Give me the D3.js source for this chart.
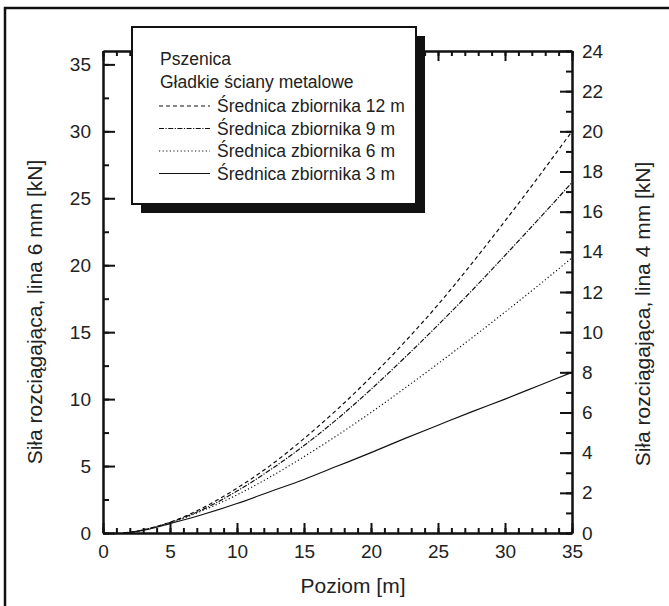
<!DOCTYPE html>
<html><head><meta charset="utf-8">
<script src="https://cdn.jsdelivr.net/npm/d3@7"></script>
<style>body{margin:0;background:#fff}svg{display:block}text{font-family:"Liberation Sans",Arial,sans-serif;fill:#222}</style>
</head><body>
<svg id="c" width="669" height="606"></svg>
<script>
const xs = [1.5, 2.5, 3.5, 5, 7.5, 10, 12.5, 15, 17.5, 20, 22.5, 25, 27.5, 30, 32.5, 35];
const d12 = [0, 0.13, 0.36, 0.8, 1.9, 3.35, 5.05, 7.05, 9.25, 11.65, 14.25, 17.05, 20.1, 23.3, 26.6, 30.0];
const d9  = [0, 0.13, 0.35, 0.78, 1.78, 3.13, 4.73, 6.53, 8.53, 10.73, 13.08, 15.53, 18.08, 20.73, 23.43, 26.18];
const d6  = [0, 0.12, 0.34, 0.75, 1.7, 2.85, 4.2, 5.7, 7.3, 9.0, 10.8, 12.65, 14.55, 16.5, 18.5, 20.55];
const d3m = [0, 0.11, 0.3, 0.7, 1.4, 2.2, 3.1, 4.0, 5.0, 6.0, 7.05, 8.05, 9.05, 10.0, 11.0, 12.0];
const seriesNames = ["Średnica zbiornika 12 m","Średnica zbiornika 9 m","Średnica zbiornika 6 m","Średnica zbiornika 3 m"];
const legendHead = ["Pszenica","Gładkie ściany metalowe"];
const xTicks = [0,5,10,15,20,25,30,35];
const yLTicks = [0,5,10,15,20,25,30,35];
const yRTicks = [0,2,4,6,8,10,12,14,16,18,20,22,24];
const xTitle = "Poziom [m]";
const yLTitle = "Siła rozciągająca, lina 6 mm [kN]";
const yRTitle = "Siła rozciągająca, lina 4 mm [kN]";

const svg = d3.select("#c");
const L=103, R=572, T=51, B=533;
const x = d3.scaleLinear().domain([0,35]).range([L,R]);
const y = d3.scaleLinear().domain([0,36]).range([B,T]);
const yR = d3.scaleLinear().domain([0,24]).range([B,T]);

// frame
svg.append("path").attr("d","M5,610V8H675").attr("fill","none").attr("stroke","#111").attr("stroke-width",2.5);

function styleAxis(g){
  g.select(".domain").attr("stroke","#111").attr("stroke-width",2);
  g.selectAll(".tick line").attr("stroke","#111").attr("stroke-width",2);
  g.selectAll(".tick text").style("font-size","19px").attr("fill","#222");
}
const minorX = d3.range(0,36,1), minorYL = d3.range(0,36.1,2.5), minorYR = d3.range(0,24.1,1);

// bottom
svg.append("g").attr("transform",`translate(0,${B})`).call(d3.axisBottom(x).tickValues(minorX).tickSize(-5).tickSizeOuter(0).tickFormat("")).call(styleAxis);
svg.append("g").attr("transform",`translate(0,${B})`).call(d3.axisBottom(x).tickValues(xTicks).tickSize(-10).tickSizeOuter(0).tickPadding(12)).call(styleAxis);
// top
svg.append("g").attr("transform",`translate(0,${T})`).call(d3.axisTop(x).tickValues(minorX).tickSize(-5).tickSizeOuter(0).tickFormat("")).call(styleAxis);
svg.append("g").attr("transform",`translate(0,${T})`).call(d3.axisTop(x).tickValues(xTicks).tickSize(-10).tickSizeOuter(0).tickFormat("")).call(styleAxis);
// left
svg.append("g").attr("transform",`translate(${L},0)`).call(d3.axisLeft(y).tickValues(minorYL).tickSize(-6).tickSizeOuter(0).tickFormat("")).call(styleAxis);
svg.append("g").attr("transform",`translate(${L},0)`).call(d3.axisLeft(y).tickValues(yLTicks).tickSize(-12).tickSizeOuter(0).tickPadding(12)).call(styleAxis);
// right
svg.append("g").attr("transform",`translate(${R},0)`).call(d3.axisRight(yR).tickValues(minorYR).tickSize(-6).tickSizeOuter(0).tickFormat("")).call(styleAxis);
svg.append("g").attr("transform",`translate(${R},0)`).call(d3.axisRight(yR).tickValues(yRTicks).tickSize(-12).tickSizeOuter(0).tickPadding(10)).call(styleAxis);

// titles
svg.append("text").attr("x",353).attr("y",593).attr("text-anchor","middle").style("font-size","21px").text(xTitle);
svg.append("text").attr("transform","translate(42,312) rotate(-90)").attr("text-anchor","middle").style("font-size","21px").text(yLTitle);
svg.append("text").attr("transform","translate(650,314) rotate(-90)").attr("text-anchor","middle").style("font-size","21px").text(yRTitle);

// lines
const dashes = ["4,3","5,1.5,1.2,1.5","1.2,2.4",null];
const data = [d12,d9,d6,d3m];
const line = d3.line().x(d=>x(d[0])).y(d=>y(d[1])).curve(d3.curveMonotoneX);
data.forEach((s,i)=>{
  svg.append("path").attr("d",line(xs.map((v,j)=>[v,s[j]]))).attr("fill","none")
    .attr("stroke","#111").attr("stroke-width",1.2).attr("stroke-dasharray",dashes[i]);
});

// legend
svg.append("rect").attr("x",141).attr("y",36).attr("width",284).attr("height",177).attr("fill","#111");
svg.append("rect").attr("x",132).attr("y",27).attr("width",284).attr("height",177).attr("fill","#fff").attr("stroke","#111").attr("stroke-width",2);
svg.append("text").attr("x",160).attr("y",65).style("font-size","17.5px").text(legendHead[0]);
svg.append("text").attr("x",160).attr("y",88).style("font-size","17.5px").text(legendHead[1]);
const rowY = [112,134.5,157,179.5];
seriesNames.forEach((n,i)=>{
  svg.append("line").attr("x1",159).attr("x2",210).attr("y1",rowY[i]-6).attr("y2",rowY[i]-6)
    .attr("stroke","#111").attr("stroke-width",1.2).attr("stroke-dasharray",dashes[i]);
  svg.append("text").attr("x",217).attr("y",rowY[i]).style("font-size","17.5px").text(n);
});
</script>
</body></html>
